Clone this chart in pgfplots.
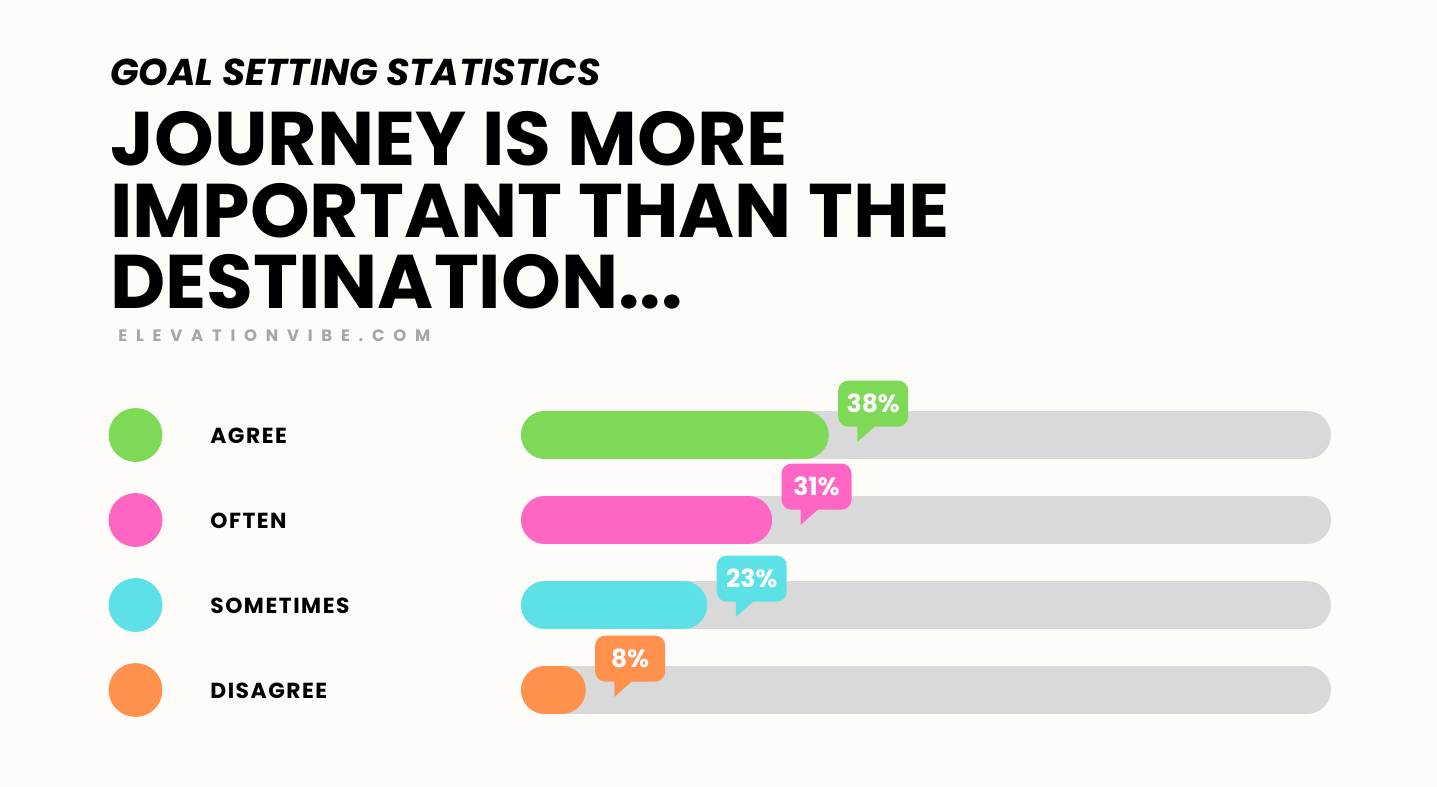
\documentclass[border=0pt]{standalone}
\usepackage{pgfplots}
\pgfplotsset{compat=1.18}
\usepackage{fontspec}
\setmainfont{Poppins}
\newfontfamily\urlfont{Poppins}[LetterSpace=53]
\newfontfamily\lblfont{Poppins}[LetterSpace=7]
\definecolor{bg}{HTML}{FDFCF8}
\definecolor{cgreen}{HTML}{7ED957}
\definecolor{cpink}{HTML}{FF66C4}
\definecolor{ccyan}{HTML}{5CE1E6}
\definecolor{corange}{HTML}{FF914D}
\definecolor{track}{HTML}{D9D9D9}
\definecolor{urlgray}{HTML}{A6A6A6}
\tikzset{
  bubble/.style={anchor=south west, xshift=4.5pt, fill=#1, text=white,
    rounded corners=5pt, minimum width=35pt, minimum height=23pt, inner sep=0pt,
    font=\fontsize{12.5pt}{13pt}\selectfont\bfseries,
    append after command={\pgfextra{\fill[#1, sharp corners] ([xshift=9.75pt,yshift=0.5pt]\tikzlastnode.south west) -- ++(9pt,0pt) -- ++(-9pt,-8pt) -- cycle;}}},
  lbl/.style={anchor=base west, inner sep=0pt, font=\lblfont\fontsize{10.9pt}{12pt}\selectfont\bfseries}
}
\begin{document}
\begin{tikzpicture}
\fill[bg] (0pt,0pt) rectangle (718.5pt,-393.5pt);
\node[anchor=base west, inner sep=0pt, font=\fontsize{18.7pt}{20pt}\selectfont\bfseries\itshape] at (55pt,-42.5pt) {GOAL SETTING STATISTICS};
\node[anchor=base west, inner sep=0pt, font=\fontsize{38pt}{40pt}\selectfont\bfseries] at (55pt,-82.5pt) {JOURNEY IS MORE};
\node[anchor=base west, inner sep=0pt, font=\fontsize{38pt}{40pt}\selectfont\bfseries] at (55pt,-118.5pt) {IMPORTANT THAN THE};
\node[anchor=base west, inner sep=0pt, font=\fontsize{38pt}{40pt}\selectfont\bfseries] at (55pt,-154pt) {DESTINATION...};
\node[anchor=base west, inner sep=0pt, text=urlgray, font=\urlfont\fontsize{8.25pt}{9pt}\selectfont\bfseries] at (59pt,-170.5pt) {ELEVATIONVIBE.COM};
\node[lbl] at (105pt,-221.5pt) {AGREE};
\node[lbl] at (105pt,-264pt) {OFTEN};
\node[lbl] at (105pt,-306.5pt) {SOMETIMES};
\node[lbl] at (105pt,-349pt) {DISAGREE};
\begin{axis}[at={(0pt,0pt)}, anchor=north west, scale only axis,
  width=718.5pt, height=393.5pt, hide axis, clip=false,
  xmin=-64.321, xmax=113.086, ymin=-1.1412, ymax=8.1176,
  /pgf/number format/assume math mode=true]
% tracks
\addplot[track, line width=24pt, line cap=round, shorten <=12pt, shorten >=12pt, mark=none] coordinates {(0,3) (100,3)};
\addplot[track, line width=24pt, line cap=round, shorten <=12pt, shorten >=12pt, mark=none] coordinates {(0,2) (100,2)};
\addplot[track, line width=24pt, line cap=round, shorten <=12pt, shorten >=12pt, mark=none] coordinates {(0,1) (100,1)};
\addplot[track, line width=24pt, line cap=round, shorten <=12pt, shorten >=12pt, mark=none] coordinates {(0,0) (100,0)};
% values
\addplot[cgreen, line width=24pt, line cap=round, shorten <=12pt, shorten >=12pt, mark=none] coordinates {(0,3) (38,3)};
\addplot[cpink, line width=24pt, line cap=round, shorten <=12pt, shorten >=12pt, mark=none] coordinates {(0,2) (31,2)};
\addplot[ccyan, line width=24pt, line cap=round, shorten <=12pt, shorten >=12pt, mark=none] coordinates {(0,1) (23,1)};
\addplot[corange, line width=24pt, line cap=round, shorten <=12pt, shorten >=12pt, mark=none] coordinates {(0,0) (8,0)};
% legend circles
\addplot[only marks, mark=*, mark size=13.25pt, cgreen, mark options={draw=none, fill=cgreen}] coordinates {(-47.59,3)};
\addplot[only marks, mark=*, mark size=13.25pt, cpink, mark options={draw=none, fill=cpink}] coordinates {(-47.59,2)};
\addplot[only marks, mark=*, mark size=13.25pt, ccyan, mark options={draw=none, fill=ccyan}] coordinates {(-47.59,1)};
\addplot[only marks, mark=*, mark size=13.25pt, corange, mark options={draw=none, fill=corange}] coordinates {(-47.59,0)};
% bubbles
\addplot[draw=none, mark=none, point meta=x, nodes near coords={\pgfmathprintnumber{\pgfplotspointmeta}\%}, nodes near coords style={bubble=cgreen, yshift=4pt}] coordinates {(38,3)};
\addplot[draw=none, mark=none, point meta=x, nodes near coords={\pgfmathprintnumber{\pgfplotspointmeta}\%}, nodes near coords style={bubble=cpink, yshift=5pt}] coordinates {(31,2)};
\addplot[draw=none, mark=none, point meta=x, nodes near coords={\pgfmathprintnumber{\pgfplotspointmeta}\%}, nodes near coords style={bubble=ccyan, yshift=1.5pt}] coordinates {(23,1)};
\addplot[draw=none, mark=none, point meta=x, nodes near coords={\pgfmathprintnumber{\pgfplotspointmeta}\%}, nodes near coords style={bubble=corange, yshift=4pt}] coordinates {(8,0)};
\end{axis}
\end{tikzpicture}
\end{document}
